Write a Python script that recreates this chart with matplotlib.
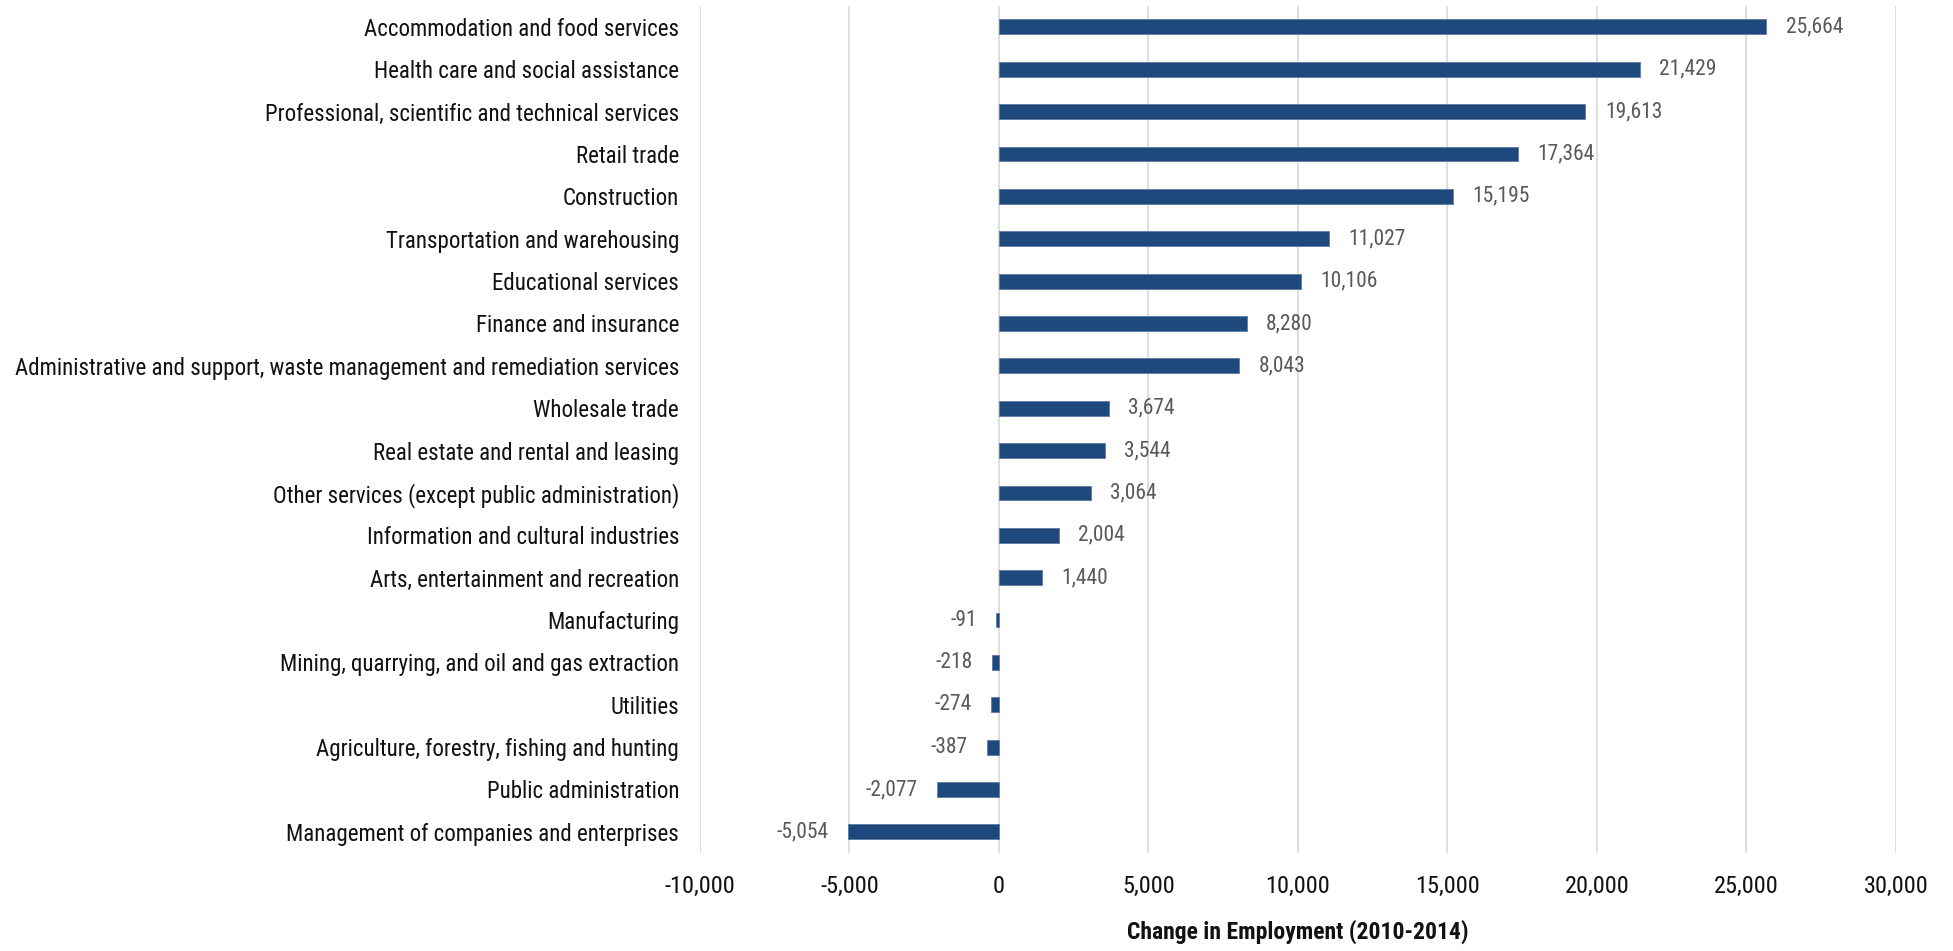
import os
import matplotlib
matplotlib.use("Agg")
import matplotlib.pyplot as plt
from matplotlib import font_manager
from matplotlib.ticker import FuncFormatter

industries = [
    "Accommodation and food services",
    "Health care and social assistance",
    "Professional, scientific and technical services",
    "Retail trade",
    "Construction",
    "Transportation and warehousing",
    "Educational services",
    "Finance and insurance",
    "Administrative and support, waste management and remediation services",
    "Wholesale trade",
    "Real estate and rental and leasing",
    "Other services (except public administration)",
    "Information and cultural industries",
    "Arts, entertainment and recreation",
    "Manufacturing",
    "Mining, quarrying, and oil and gas extraction",
    "Utilities",
    "Agriculture, forestry, fishing and hunting",
    "Public administration",
    "Management of companies and enterprises",
]
change = [25664, 21429, 19613, 17364, 15195, 11027, 10106, 8280, 8043, 3674,
          3544, 3064, 2004, 1440, -91, -218, -274, -387, -2077, -5054]

# look for a narrow sans face on the system
fonts = {os.path.basename(f): f for f in font_manager.findSystemFonts()}
def pick(names):
    for n in names:
        if n in fonts:
            return fonts[n]
    return None

reg_file = pick(["LiberationSansNarrow-Regular.ttf", "RobotoCondensed-Regular.ttf",
                 "DejaVuSansCondensed.ttf"])
bold_file = pick(["LiberationSansNarrow-Bold.ttf", "RobotoCondensed-Bold.ttf",
                  "DejaVuSansCondensed-Bold.ttf"])

def fp(size, bold=False):
    f = bold_file if bold else reg_file
    if f:
        return font_manager.FontProperties(fname=f, size=size)
    return font_manager.FontProperties(family='DejaVu Sans', size=size,
                                       weight='bold' if bold else 'normal')

fig = plt.figure(figsize=(19.53, 9.51), dpi=100)
ax = fig.add_axes([0.3584, 0.103, 0.9708 - 0.3584, 0.891])

ypos = list(range(len(industries)))
ax.barh(ypos, change, height=0.35, color='#1F497D', edgecolor='#5B7BA6', linewidth=0.6, zorder=3)

for y, v in zip(ypos, change):
    if v >= 0:
        ax.annotate(f"{v:,}", (v, y), xytext=(14, 0), textcoords='offset points',
                    ha='left', va='center', fontproperties=fp(15.5), color='#595959')
    else:
        ax.annotate(f"{v:,}", (v, y), xytext=(-14, 0), textcoords='offset points',
                    ha='right', va='center', fontproperties=fp(15.5), color='#595959')

ax.set_xlim(-10000, 30000)
ax.set_ylim(len(industries) - 0.5, -0.5)
ax.set_xticks(range(-10000, 30001, 5000))
ax.xaxis.set_major_formatter(FuncFormatter(lambda x, p: f"{int(x):,}"))
ax.set_yticks(ypos)
ax.set_yticklabels(industries)

ax.grid(axis='x', color='#D9D9D9', linewidth=1.2, zorder=0)
for s in ax.spines.values():
    s.set_visible(False)
ax.tick_params(axis='both', length=0)
ax.tick_params(axis='y', pad=15, labelcolor='#111111')
ax.tick_params(axis='x', pad=16, labelcolor='#111111')
for lbl in ax.get_yticklabels():
    lbl.set_fontproperties(fp(16.5))
for lbl in ax.get_xticklabels():
    lbl.set_fontproperties(fp(17.5))

ax.set_xlabel("Change in Employment (2010-2014)", fontproperties=fp(17, bold=True),
              labelpad=15, color='#111111')

fig.savefig("out.png", dpi=100)
